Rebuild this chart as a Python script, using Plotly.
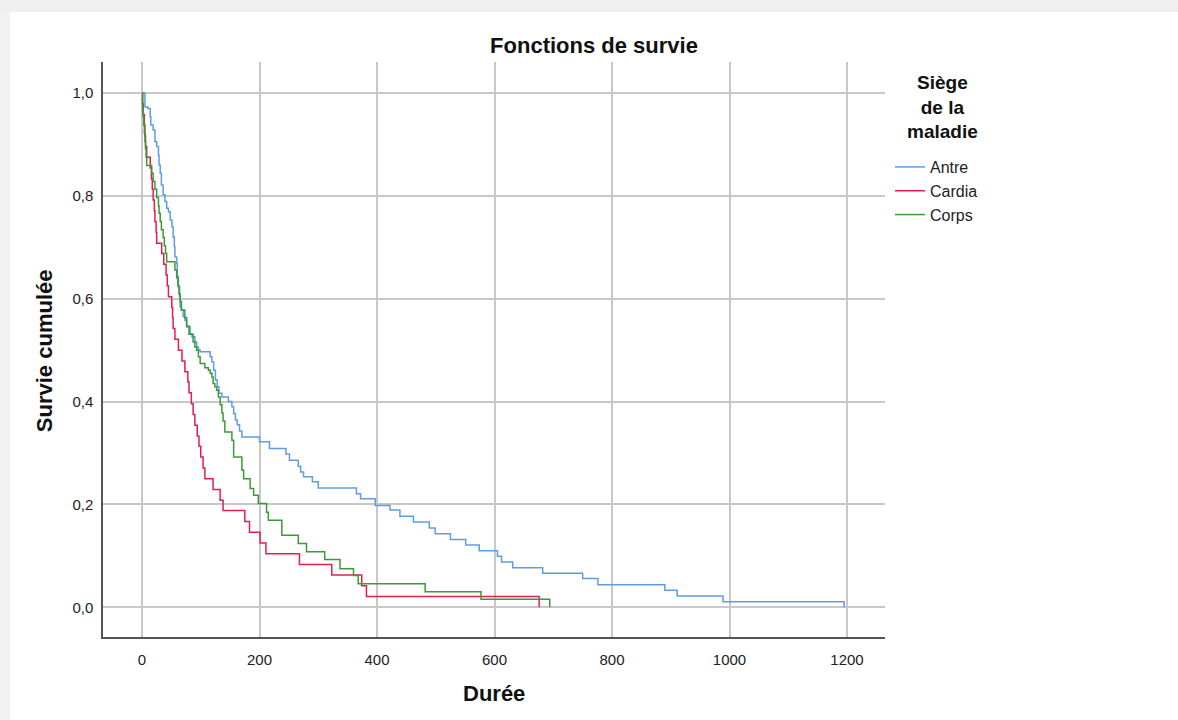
import plotly.graph_objects as go

# ---- data ----
groups = ["Antre", "Cardia", "Corps"]

t_antre = [0, 5, 10, 14, 15, 19, 22, 25, 28, 29, 31, 33, 36, 39, 42, 45, 48, 51, 53, 55,
           56, 59, 60, 62, 64, 65, 67, 70, 73, 76, 82, 85, 90, 93, 96, 99, 116, 119, 122, 125,
           128, 131, 136, 147, 153, 156, 159, 162, 166, 170, 200, 217, 245, 251, 266, 270, 275, 290, 300, 365,
           372, 397, 422, 439, 462, 489, 499, 525, 551, 574, 605, 612, 631, 682, 750, 776, 890, 911, 989, 1195]
s_antre = [1.0, 0.973, 0.97, 0.954, 0.938, 0.928, 0.905, 0.896, 0.879, 0.86,
           0.844, 0.821, 0.802, 0.789, 0.776, 0.769, 0.753, 0.74, 0.72, 0.701,
           0.681, 0.669, 0.643, 0.623, 0.604, 0.584, 0.578, 0.565, 0.558, 0.545,
           0.532, 0.526, 0.516, 0.506, 0.5, 0.497, 0.487, 0.477, 0.461, 0.442,
           0.429, 0.416, 0.409, 0.40, 0.39, 0.377, 0.364, 0.355, 0.343, 0.331,
           0.322, 0.309, 0.298, 0.286, 0.274, 0.263, 0.254, 0.244, 0.232, 0.221,
           0.211, 0.198, 0.189, 0.177, 0.166, 0.154, 0.143, 0.132, 0.121, 0.110,
           0.099, 0.088, 0.077, 0.066, 0.056, 0.044, 0.033, 0.022, 0.011, 0.0]

t_cardia = [0, 1, 2, 4, 5, 6, 8, 14, 16, 17.5, 19, 21, 22, 24, 25, 33.5, 37, 41, 43, 45,
            50.6, 52, 53, 56, 62, 68, 73, 78, 80, 84, 87, 90, 94, 97, 100, 104, 107, 121, 133, 138,
            175, 183, 201, 211, 268, 323, 374, 382, 676]
s_cardia = [1.0, 0.979, 0.958, 0.938, 0.917, 0.896, 0.875, 0.854, 0.833, 0.813,
            0.792, 0.771, 0.75, 0.729, 0.708, 0.688, 0.667, 0.646, 0.625, 0.604,
            0.583, 0.563, 0.542, 0.521, 0.5, 0.479, 0.458, 0.438, 0.417, 0.396,
            0.375, 0.354, 0.333, 0.313, 0.292, 0.271, 0.25, 0.229, 0.208, 0.188,
            0.167, 0.146, 0.125, 0.104, 0.083, 0.063, 0.042, 0.021, 0.0]

t_corps = [0, 1, 2, 3, 4, 5, 6, 7, 8, 16.5, 19, 22, 25, 28, 29, 31, 33, 36, 38, 40,
           42, 56, 59, 61, 63, 65, 67, 73, 76, 80, 87, 90, 93, 96, 99, 107, 113, 116, 119, 121,
           124, 127, 130, 133, 136, 138, 141, 153, 156, 170, 173, 184, 190, 198, 212, 215, 238, 266, 280, 311,
           337, 360, 368, 482, 577, 694]
s_corps = [1.0, 0.969, 0.953, 0.938, 0.922, 0.906, 0.891, 0.875, 0.859, 0.844,
           0.828, 0.813, 0.797, 0.781, 0.766, 0.75, 0.734, 0.719, 0.703, 0.688,
           0.672, 0.656, 0.641, 0.625, 0.609, 0.594, 0.578, 0.563, 0.547, 0.531,
           0.516, 0.506, 0.5, 0.487, 0.474, 0.466, 0.461, 0.455, 0.448, 0.435,
           0.429, 0.422, 0.409, 0.394, 0.378, 0.362, 0.341, 0.325, 0.292, 0.267,
           0.25, 0.231, 0.218, 0.202, 0.185, 0.169, 0.140, 0.124, 0.108, 0.093,
           0.075, 0.062, 0.046, 0.030, 0.0156, 0.0]

x_ticks = [0, 200, 400, 600, 800, 1000, 1200]
y_ticks = [0.0, 0.2, 0.4, 0.6, 0.8, 1.0]
y_tick_labels = ["0,0", "0,2", "0,4", "0,6", "0,8", "1,0"]

colors = {"Antre": "#5f9de3", "Cardia": "#e0204c", "Corps": "#3a9a3a"}
series = {"Antre": (t_antre, s_antre), "Cardia": (t_cardia, s_cardia), "Corps": (t_corps, s_corps)}

FONT = "Liberation Sans, Arial, sans-serif"

fig = go.Figure()
for g in groups:
    t, s = series[g]
    fig.add_trace(go.Scatter(x=t, y=s, mode="lines", name=g,
                             line=dict(color=colors[g], width=1.5, shape="hv")))

# page geometry
W, H = 1178, 720
L, R, T, B = 103, 885, 62, 636.7
pw, ph = R - L, B - T

def px(x):
    return (x - L) / pw

def py(y):
    return (B - y) / ph

fig.update_layout(
    width=W, height=H,
    margin=dict(l=L, r=W - R, t=T, b=H - B),
    paper_bgcolor="white", plot_bgcolor="white",
    font=dict(family=FONT, color="#1a1a1a", size=15),
    title=dict(text="Fonctions de survie", x=594 / W, y=1 - 45 / H,
               xanchor="center", yanchor="middle",
               font=dict(size=22, family=FONT, color="#111", weight="bold")),
    showlegend=True,
    legend=dict(x=px(890), y=py(150), xanchor="left", yanchor="top",
                bgcolor="rgba(0,0,0,0)",
                font=dict(size=16, family=FONT, color="#222"),
                itemwidth=30),
    xaxis=dict(range=[(L - 142) / 0.5875, (R - 142) / 0.5875],
               tickvals=x_ticks, ticktext=[str(v) for v in x_ticks],
               showgrid=True, gridcolor="#c8c8c8", gridwidth=1.5,
               zeroline=False, showline=True, linecolor="#555", linewidth=1.5,
               ticks="", ticklabelstandoff=8,
               tickfont=dict(size=15, family=FONT, color="#222")),
    yaxis=dict(range=[(607 - B) / 514, (607 - T) / 514],
               tickvals=y_ticks, ticktext=y_tick_labels,
               showgrid=True, gridcolor="#c8c8c8", gridwidth=1.5,
               zeroline=False, showline=True, linecolor="#555", linewidth=1.5,
               ticks="", ticklabelstandoff=5,
               tickfont=dict(size=15, family=FONT, color="#222")),
    annotations=[
        dict(text="Durée", xref="paper", yref="paper", x=px(494), y=py(693),
             xanchor="center", yanchor="middle", showarrow=False,
             font=dict(size=22, family=FONT, color="#111", weight="bold")),
        dict(text="Survie cumulée", xref="paper", yref="paper", x=px(44), y=py(351),
             xanchor="center", yanchor="middle", showarrow=False, textangle=-90,
             font=dict(size=22, family=FONT, color="#111", weight="bold")),
        dict(text="Siège<br>de la<br>maladie", xref="paper", yref="paper",
             x=px(942), y=py(107), xanchor="center", yanchor="middle",
             align="center", showarrow=False,
             font=dict(size=19, family=FONT, color="#111", weight="bold")),
    ],
    shapes=[
        dict(type="rect", xref="paper", yref="paper", x0=px(-5), x1=px(W + 5),
             y0=py(12), y1=py(-5), fillcolor="#efefef", line=dict(width=0)),
        dict(type="rect", xref="paper", yref="paper", x0=px(-5), x1=px(10),
             y0=py(H + 5), y1=py(12), fillcolor="#f2f2f2", line=dict(width=0)),
    ],
)

fig.write_html("out.html")
